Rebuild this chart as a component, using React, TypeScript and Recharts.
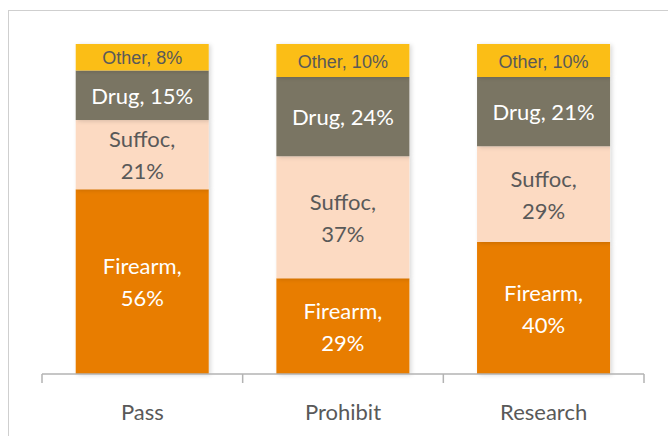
import { BarChart, Bar, XAxis, YAxis, LabelList } from 'recharts'

const policies = ['Pass', 'Prohibit', 'Research']
const firearm = [56, 29, 40]
const suffoc = [21, 37, 29]
const drug = [15, 24, 21]
const other = [8, 10, 10]

const data = policies.map((p, i) => ({
  policy: p,
  firearm: firearm[i],
  suffoc: suffoc[i],
  drug: drug[i],
  other: other[i],
}))

const FONT = 'Lato, "Open Sans", sans-serif'
const W = 668
const H = 436
const M = { top: 44, right: 24, bottom: 0, left: 42 }
const band = (W - M.left - M.right) / policies.length

const makeLabel = (name: string, color: string, twoLines: boolean, small = false) => (props: any) => {
  const { x, y, width, height, value } = props
  const cx = x + width / 2
  const cy = y + height / 2
  if (small) {
    return (
      <text x={cx} y={cy + 1} textAnchor="middle" dominantBaseline="central" fill={color}
        style={{ fontFamily: '"Liberation Sans Narrow", "Liberation Sans", sans-serif', fontSize: 18 }}>
        {`${name}, ${value}%`}
      </text>
    )
  }
  if (!twoLines) {
    return (
      <text x={cx} y={cy} textAnchor="middle" dominantBaseline="central" fill={color}
        style={{ fontFamily: FONT, fontSize: 22 }}>
        {`${name}, ${value}%`}
      </text>
    )
  }
  return (
    <text textAnchor="middle" fill={color} style={{ fontFamily: FONT, fontSize: 22 }}>
      <tspan x={cx} y={cy - 16} dominantBaseline="central">{`${name},`}</tspan>
      <tspan x={cx} y={cy + 16} dominantBaseline="central">{`${value}%`}</tspan>
    </text>
  )
}

// excel style: tick marks sit on the category boundaries, not the centres
const CatTick = (props: any) => {
  const { x, payload, index } = props
  const y0 = H - 62
  const left = x - band / 2
  const right = x + band / 2
  return (
    <g>
      <line x1={left} x2={left} y1={y0} y2={y0 + 9} stroke="#b3b3b3" strokeWidth={1.5} />
      {index === policies.length - 1 && (
        <line x1={right} x2={right} y1={y0} y2={y0 + 9} stroke="#b3b3b3" strokeWidth={1.5} />
      )}
      <text x={x} y={y0 + 37} textAnchor="middle" dominantBaseline="central" fill="#595959"
        style={{ fontFamily: FONT, fontSize: 22 }}>{payload.value}</text>
    </g>
  )
}

export default function App() {
  return (
    <div style={{ position: 'absolute', left: 0, top: 0, width: W, height: H, background: '#fff', overflow: 'hidden' }}>
      <div style={{ position: 'absolute', left: 8, top: 10, width: 700, height: 500, borderLeft: '1px solid #cfcfcf', borderTop: '1px solid #cfcfcf' }} />
      <div style={{ position: 'absolute', left: 0, top: 0 }}>
        <BarChart width={W} height={H} data={data} barCategoryGap="16.8%" margin={M}>
          <defs>
            <filter id="shadow" x="-10%" y="-10%" width="130%" height="130%">
              <feDropShadow dx="2" dy="1" stdDeviation="2" floodColor="#000" floodOpacity="0.15" />
            </filter>
          </defs>
          <YAxis hide domain={[0, 100]} />
          <XAxis dataKey="policy" height={62} tickLine={false} stroke="#b3b3b3" strokeWidth={1.5}
            tick={<CatTick />} interval={0} />
          <Bar dataKey="firearm" stackId="a" fill="#E87D05" isAnimationActive={false} style={{ filter: 'url(#shadow)' }}>
            <LabelList dataKey="firearm" content={makeLabel('Firearm', '#ffffff', true)} />
          </Bar>
          <Bar dataKey="suffoc" stackId="a" fill="#FCDAC2" isAnimationActive={false} style={{ filter: 'url(#shadow)' }}>
            <LabelList dataKey="suffoc" content={makeLabel('Suffoc', '#595959', true)} />
          </Bar>
          <Bar dataKey="drug" stackId="a" fill="#7A7563" isAnimationActive={false} style={{ filter: 'url(#shadow)' }}>
            <LabelList dataKey="drug" content={makeLabel('Drug', '#ffffff', false)} />
          </Bar>
          <Bar dataKey="other" stackId="a" fill="#FBBE15" isAnimationActive={false} style={{ filter: 'url(#shadow)' }}>
            <LabelList dataKey="other" content={makeLabel('Other', '#595959', false, true)} />
          </Bar>
        </BarChart>
      </div>
    </div>
  )
}
